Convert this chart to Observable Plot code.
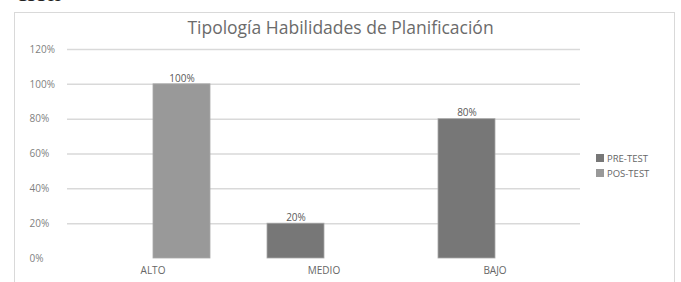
<!DOCTYPE html>
<html>
<head>
<meta charset="utf-8">
<script src="https://cdn.jsdelivr.net/npm/d3@7"></script>
<script src="https://cdn.jsdelivr.net/npm/@observablehq/plot@0.6"></script>
<style>
  html, body { margin: 0; padding: 0; background: #fff; }
  #wrap { position: relative; width: 681px; height: 282px; overflow: hidden; }
  #doc { position: absolute; left: 16px; top: -20px; font-family: "Liberation Serif", serif; font-size: 26px; line-height: 26px; color: #222; }
  #frame { position: absolute; left: 14px; top: 12px; width: 661px; height: 300px; border: 1px solid #d9d9d9; box-sizing: border-box; }
  #title { position: absolute; left: 0; width: 681px; top: 15px; text-align: center; font-family: "Open Sans", sans-serif; font-size: 17.5px; color: #6b6b6b; }
  #chart { position: absolute; left: 0; top: 0; }
  #legend { position: absolute; left: 596px; top: 151px; font-family: "Open Sans", sans-serif; font-size: 9.5px; color: #666; line-height: 15px; }
  #legend span.sw { display: inline-block; width: 8px; height: 8px; margin-right: 3px; }
</style>
</head>
<body>
<div id="wrap">
  <div id="doc">ción</div>
  <div id="frame"></div>
  <div id="title">Tipología Habilidades de Planificación</div>
  <div id="chart"></div>
  <div id="legend"></div>
</div>
<script>
const categories = ["ALTO", "MEDIO", "BAJO"];
const series = ["PRE-TEST", "POS-TEST"];
const preTest = [null, 0.20, 0.80];
const posTest = [1.00, null, null];
const yTicks = [0, 0.2, 0.4, 0.6, 0.8, 1.0, 1.2];
const colors = ["#777777", "#999999"];

const data = [];
categories.forEach((c, i) => {
  if (preTest[i] != null) data.push({cat: c, serie: series[0], value: preTest[i]});
  if (posTest[i] != null) data.push({cat: c, serie: series[1], value: posTest[i]});
});

const font = "'Open Sans', sans-serif";
const chart = Plot.plot({
  width: 681,
  height: 282,
  marginLeft: 67,
  marginRight: 101,
  marginTop: 49,
  marginBottom: 24,
  style: {fontFamily: font, background: "transparent"},
  fx: {domain: categories, padding: 0, label: null, axis: null},
  x: {domain: series, paddingInner: 0, paddingOuter: 0.5, axis: null},
  y: {domain: [0, 1.2], axis: null},
  color: {domain: series, range: colors},
  marks: [
    Plot.ruleY(yTicks.filter(d => d > 0), {stroke: "#d9d9d9", strokeWidth: 1.5}),
    Plot.axisY({ticks: yTicks, tickFormat: d3.format(".0%"), tickSize: 0, tickPadding: 38, textAnchor: "start", fontSize: 10, fill: "#7f7f7f", label: null}),
    Plot.axisFx({anchor: "bottom", tickSize: 0, tickPadding: 8, fontSize: 10, fill: "#666", label: null}),
    Plot.barY(data, {fx: "cat", x: "serie", y: "value", fill: "serie", stroke: "#a8a8a8", strokeWidth: 0.8}),
    Plot.text(data, {fx: "cat", x: "serie", y: "value", text: d => d3.format(".0%")(d.value), dy: -6, fontSize: 10, fill: "#595959"})
  ]
});
document.getElementById("chart").appendChild(chart);

const legend = document.getElementById("legend");
series.forEach((s, i) => {
  const row = document.createElement("div");
  row.innerHTML = `<span class="sw" style="background:${colors[i]}"></span>${s}`;
  legend.appendChild(row);
});
</script>
</body>
</html>
